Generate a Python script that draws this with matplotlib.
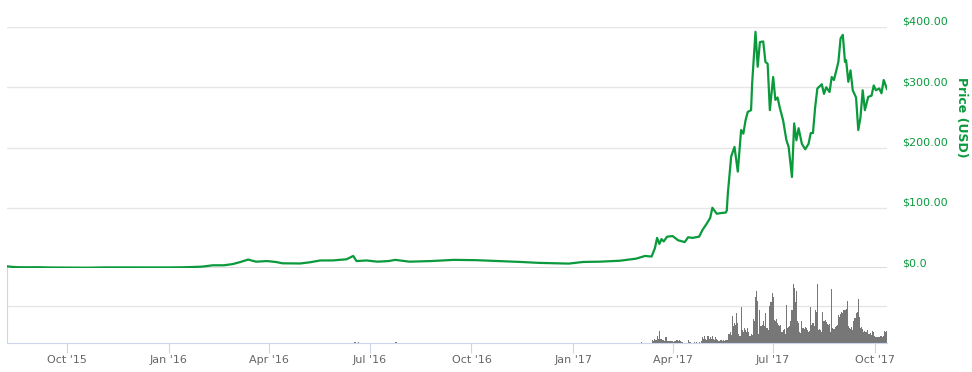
import numpy as np
import pandas as pd
import matplotlib
matplotlib.use("Agg")
import matplotlib.pyplot as plt
import matplotlib.dates as mdates

# price (USD)
price_dates = [
    "2015-08-08", "2015-08-12", "2015-08-18", "2015-08-26", "2015-09-05", "2015-09-15",
    "2015-10-01", "2015-10-20", "2015-11-05", "2015-11-20", "2015-12-10", "2015-12-31",
    "2016-01-15", "2016-01-31", "2016-02-10", "2016-02-20", "2016-02-28", "2016-03-06",
    "2016-03-13", "2016-03-20", "2016-03-30", "2016-04-07", "2016-04-13", "2016-04-22",
    "2016-04-29", "2016-05-08", "2016-05-17", "2016-05-29", "2016-06-10", "2016-06-16",
    "2016-06-19", "2016-06-28", "2016-07-08", "2016-07-18", "2016-07-24", "2016-08-06",
    "2016-08-25", "2016-09-15", "2016-10-05", "2016-10-25", "2016-11-15", "2016-12-01",
    "2016-12-15", "2016-12-28", "2017-01-10", "2017-01-25", "2017-02-12", "2017-02-27",
    "2017-03-07", "2017-03-13", "2017-03-16", "2017-03-18", "2017-03-20", "2017-03-22",
    "2017-03-24", "2017-03-27", "2017-04-01", "2017-04-06", "2017-04-12", "2017-04-15",
    "2017-04-19", "2017-04-25", "2017-04-28", "2017-05-02", "2017-05-05", "2017-05-07",
    "2017-05-11", "2017-05-14", "2017-05-19", "2017-05-20", "2017-05-21", "2017-05-24",
    "2017-05-27", "2017-05-30", "2017-06-02", "2017-06-04", "2017-06-06", "2017-06-08",
    "2017-06-11", "2017-06-12", "2017-06-15", "2017-06-17", "2017-06-19", "2017-06-22",
    "2017-06-24", "2017-06-26", "2017-06-28", "2017-07-01", "2017-07-03", "2017-07-05",
    "2017-07-07", "2017-07-10", "2017-07-13", "2017-07-15", "2017-07-18", "2017-07-20",
    "2017-07-22", "2017-07-24", "2017-07-27", "2017-07-30", "2017-08-02", "2017-08-04",
    "2017-08-06", "2017-08-08", "2017-08-10", "2017-08-14", "2017-08-16", "2017-08-18",
    "2017-08-21", "2017-08-23", "2017-08-25", "2017-08-29", "2017-08-31", "2017-09-02",
    "2017-09-04", "2017-09-05", "2017-09-07", "2017-09-09", "2017-09-11", "2017-09-14",
    "2017-09-16", "2017-09-18", "2017-09-20", "2017-09-22", "2017-09-25", "2017-09-28",
    "2017-09-30", "2017-10-02", "2017-10-05", "2017-10-07", "2017-10-09", "2017-10-12",
]
prices = [
    2.8, 1.9, 1.3, 1.2, 1.3, 0.9,
    0.75, 0.5, 1.0, 0.95, 0.85, 0.93,
    1.2, 2.2, 4.5, 4.5, 6.5, 10,
    14, 10.5, 11.5, 10, 7.8, 7.6,
    7.5, 9.5, 12.5, 12.6, 14.5, 20,
    11.5, 12.5, 10.5, 11.5, 13.5, 10.5,
    11.5, 13.5, 13, 11.5, 10, 8.5,
    7.8, 7.3, 10, 10.5, 12, 15.5,
    20, 19, 33, 50, 40, 48,
    44, 52, 53, 46, 43, 51,
    50, 52, 63, 74, 83, 100,
    90, 91, 92, 95, 124, 185,
    201, 160, 229, 223, 245, 259,
    262, 307, 392, 334, 375, 376,
    342, 339, 262, 317, 279, 283,
    266, 245, 212, 201, 151, 240,
    212, 232, 206, 197, 206, 224,
    224, 267, 298, 305, 289, 300,
    292, 317, 312, 342, 381, 387,
    342, 345, 309, 328, 295, 283,
    229, 250, 295, 262, 284, 286,
    303, 295, 298, 290, 312, 297,
]

# daily volume from 2017-03-01 (relative units, gridline = 1)
vol_start = "2017-03-01"
volumes = [
    0, 0, 0, 0.03, 0, 0, 0, 0, 0, 0,
    0, 0, 0, 0.07, 0.05, 0.12, 0.07, 0.19, 0.1, 0.32,
    0.12, 0.1, 0.08, 0.08, 0.05, 0.16, 0.06, 0.05, 0.05, 0.06,
    0.05, 0.05, 0.04, 0.06, 0.05, 0.09, 0.06, 0.08, 0.05, 0.04,
    0.03, 0, 0, 0, 0, 0.07, 0.04, 0.02, 0, 0,
    0, 0.03, 0, 0.02, 0, 0.03, 0, 0.05, 0.16, 0.1,
    0.18, 0.12, 0.08, 0.2, 0.1, 0.15, 0.12, 0.2, 0.1, 0.08,
    0.15, 0.1, 0.07, 0.06, 0.08, 0.07, 0.06, 0.07, 0.06, 0.07,
    0.08, 0.07, 0.25, 0.3, 0.22, 0.72, 0.45, 0.55, 0.5, 0.8,
    0.55, 0.25, 0.2, 0.97, 0.35, 0.3, 0.4, 0.35, 0.3, 0.4,
    0.3, 0.2, 0.25, 0.22, 0.65, 0.6, 1.24, 1.4, 1.15, 0.25,
    0.88, 0.45, 0.5, 0.6, 0.45, 0.8, 0.4, 0.4, 0.35, 1.0,
    1.1, 1.36, 1.24, 0.63, 0.6, 0.65, 0.55, 0.48, 0.45, 0.5,
    0.3, 0.35, 0.38, 0.25, 1.02, 0.4, 0.42, 0.45, 0.6, 0.9,
    1.6, 1.5, 1.1, 1.4, 0.6, 0.55, 0.3, 0.28, 0.6, 0.4,
    0.38, 0.42, 0.4, 0.35, 0.3, 0.32, 0.97, 0.5, 0.55, 0.45,
    0.9, 0.85, 1.6, 0.35, 0.38, 0.35, 0.3, 0.85, 0.6, 0.62,
    0.58, 0.52, 0.5, 0.52, 0.3, 1.47, 0.4, 0.38, 0.42, 0.45,
    0.48, 0.75, 0.7, 0.78, 0.85, 0.8, 0.9, 0.88, 0.92, 1.13,
    0.45, 0.4, 0.38, 0.42, 0.35, 0.6, 0.68, 0.8, 0.85, 1.18,
    0.7, 0.4, 0.42, 0.38, 0.3, 0.32, 0.3, 0.34, 0.25, 0.24,
    0.26, 0.22, 0.32, 0.3, 0.18, 0.16, 0.15, 0.17, 0.15, 0.18,
    0.18, 0.16, 0.2, 0.32, 0.3, 0.33,
]
# a few tiny 2016 bars
vol_2016_dates = ["2016-06-17", "2016-06-18", "2016-06-21", "2016-07-24", "2016-07-25"]
vol_2016 = [0.04, 0.03, 0.03, 0.03, 0.03]

tick_dates = ["2015-10-01", "2016-01-01", "2016-04-01", "2016-07-01", "2016-10-01",
              "2017-01-01", "2017-04-01", "2017-07-01", "2017-10-01"]
tick_labels = ["Oct '15", "Jan '16", "Apr '16", "Jul '16", "Oct '16",
               "Jan '17", "Apr '17", "Jul '17", "Oct '17"]
price_ticks = [0, 100, 200, 300, 400]
price_labels = ["$0.0", "$100.00", "$200.00", "$300.00", "$400.00"]

green = "#0a9a3c"
W, H = 972, 372
fig = plt.figure(figsize=(W / 100, H / 100), dpi=100)
ax = fig.add_axes([7 / W, 1 - 268 / H, 880 / W, 241 / H])
axv = fig.add_axes([7 / W, 1 - 343 / H, 880 / W, 75 / H])

xlim = (pd.Timestamp("2015-08-07 18:00"), pd.Timestamp("2017-10-12 00:00"))

# price panel
ax.plot(pd.to_datetime(price_dates), prices, color=green, lw=1.6, zorder=3)
ax.set_xlim(xlim)
ax.set_ylim(0, 400)
ax.set_yticks(price_ticks)
ax.set_yticklabels(price_labels)
ax.yaxis.tick_right()
ax.tick_params(axis="y", length=0, pad=11, labelsize=8, labelcolor=green)
for lab in ax.get_yticklabels():
    lab.set_verticalalignment("bottom")
ax.set_xticks([])
ax.grid(axis="y", color="#e6e6e6", lw=1)
ax.axhline(0, color="#dcdcdc", lw=2.2, zorder=2)
for s in ax.spines.values():
    s.set_visible(False)
fig.text(961 / W, 1 - 117 / H, "Price (USD)", rotation=270, color=green,
         fontsize=9, fontweight="bold", ha="center", va="center")

# volume panel
vdates = pd.date_range(vol_start, periods=len(volumes), freq="D")
axv.bar(vdates, volumes, width=1.0, color="#777777", align="center", lw=0)
axv.bar(pd.to_datetime(vol_2016_dates), vol_2016, width=1.0, color="#777777", lw=0)
axv.set_xlim(xlim)
axv.set_ylim(0, 2.03)
axv.set_yticks([1])
axv.set_yticklabels([])
axv.tick_params(axis="y", length=0)
axv.grid(axis="y", color="#e6e6e6", lw=1)
axv.set_axisbelow(True)
axv.set_xticks(pd.to_datetime(tick_dates))
axv.set_xticklabels(tick_labels)
axv.tick_params(axis="x", direction="out", length=7, color="#ccd6eb",
                labelcolor="#666666", labelsize=8, pad=1.5)
for s in ["top", "right"]:
    axv.spines[s].set_visible(False)
axv.spines["left"].set_color("#ccd6eb")
axv.spines["bottom"].set_color("#ccd6eb")

fig.savefig("out.png", dpi=100)
